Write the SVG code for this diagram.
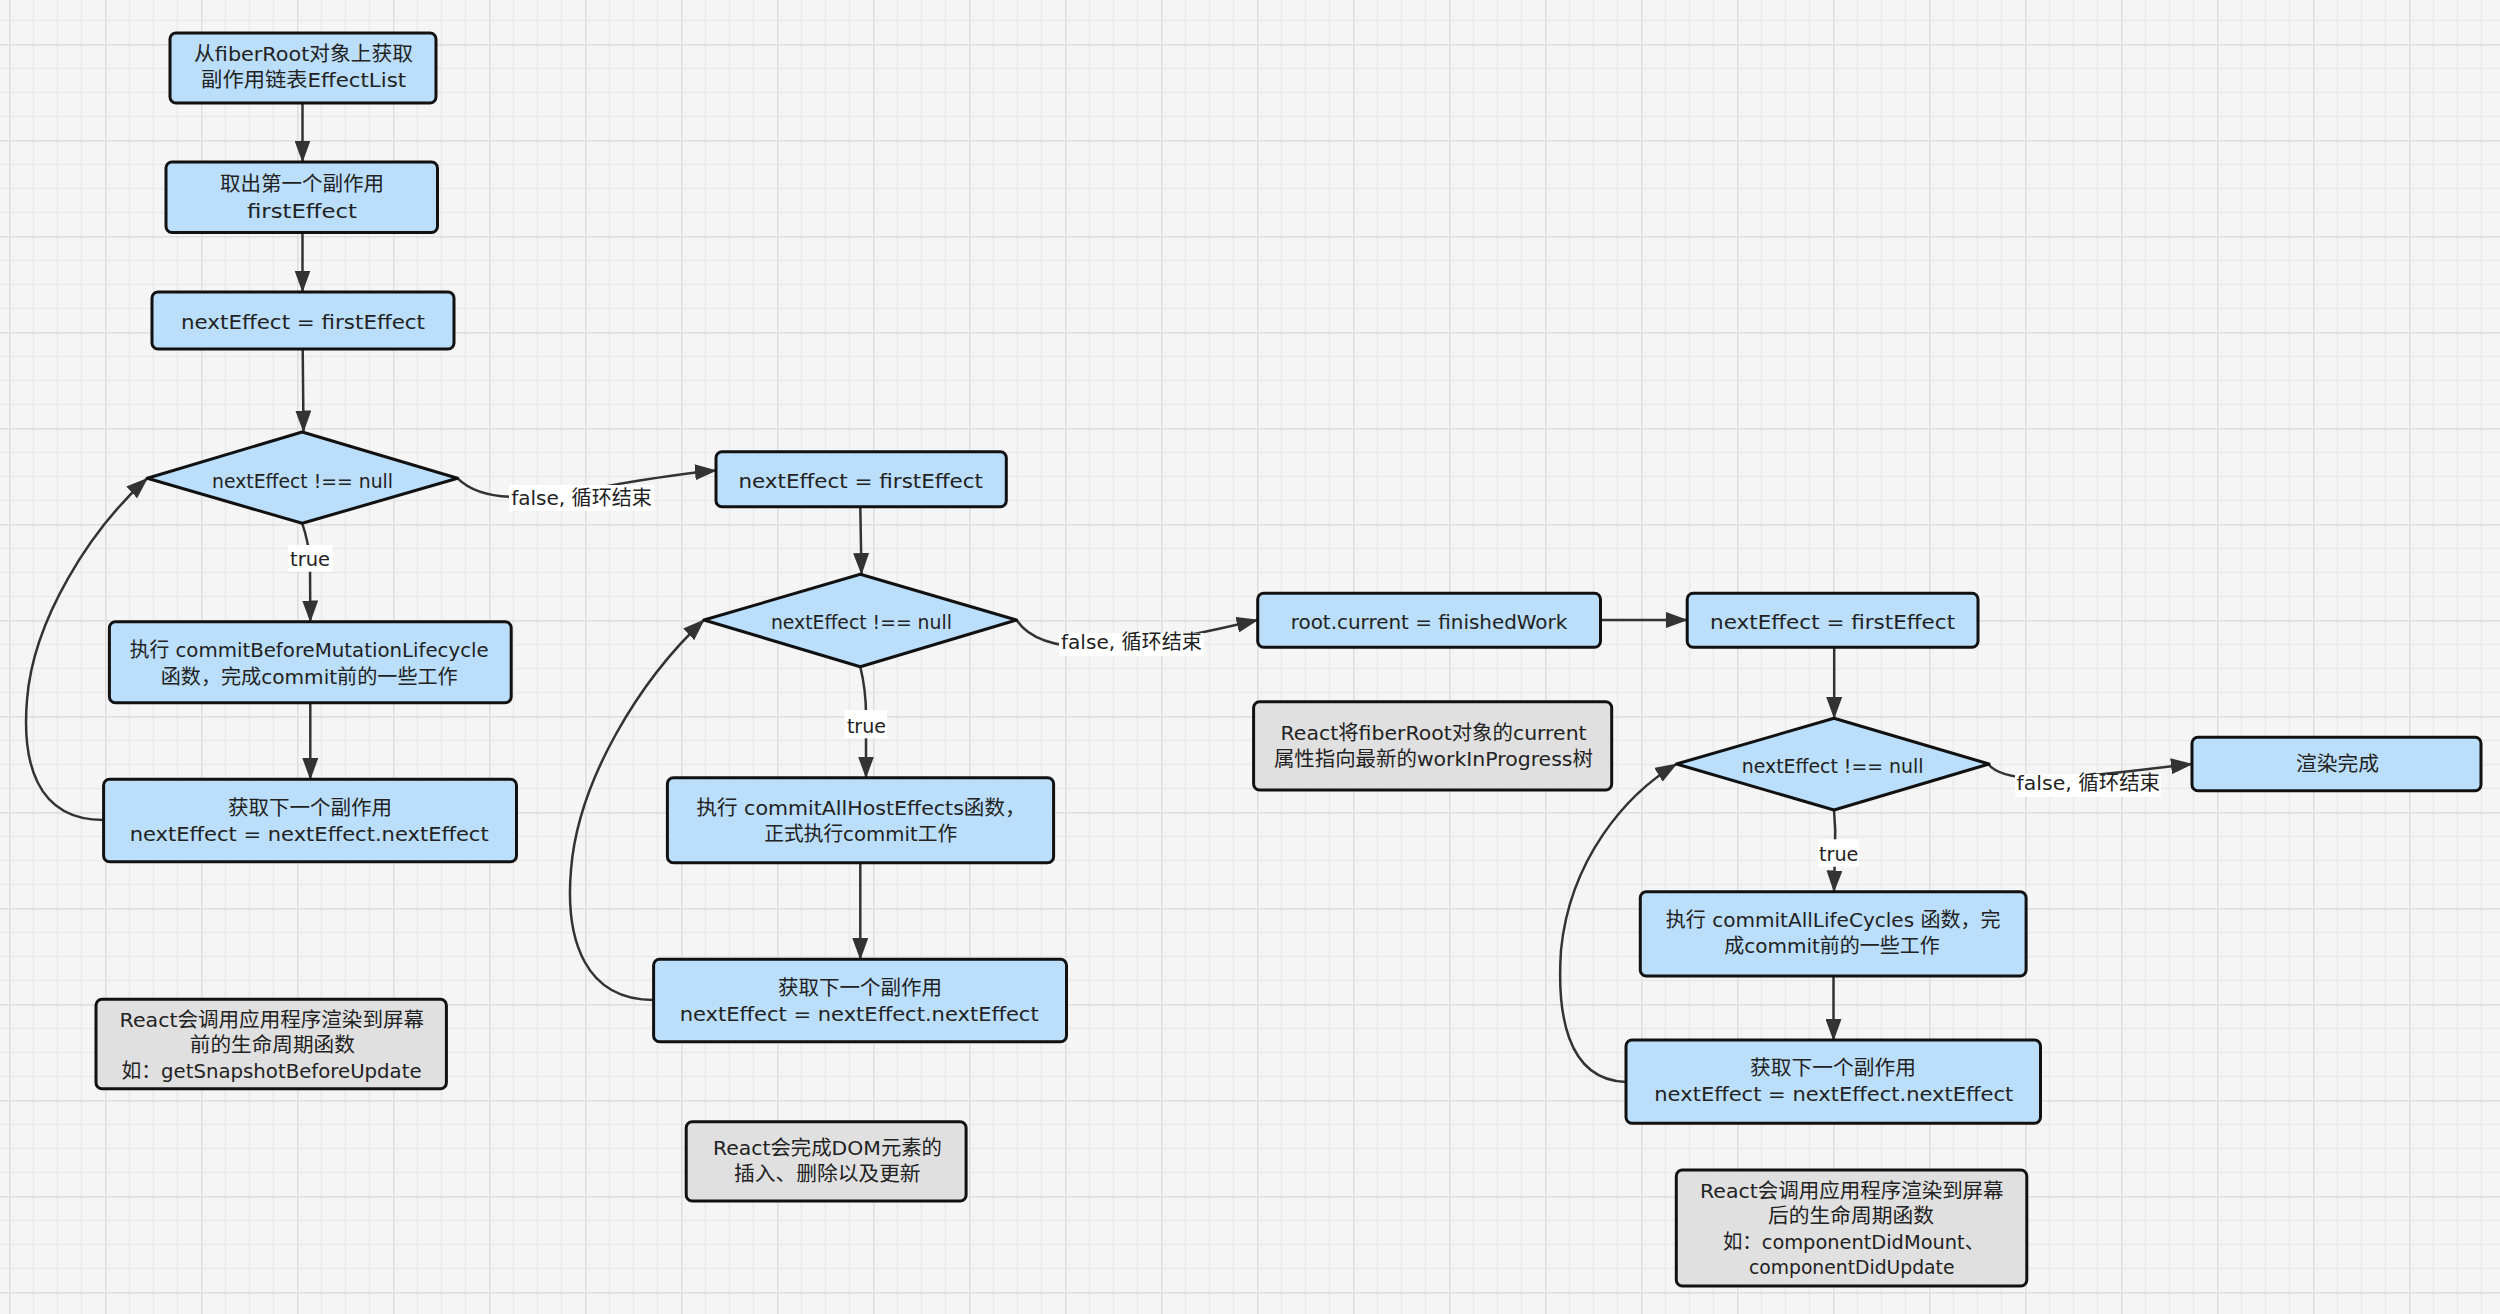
<svg xmlns="http://www.w3.org/2000/svg" width="2500" height="1314" viewBox="0 0 2500 1314">
<defs>
<pattern id="grid" x="9" y="44" width="96" height="96" patternUnits="userSpaceOnUse">
<rect width="96" height="96" fill="#f5f5f5"/>
<path d="M0.5,0V96M24.5,0V96M48.5,0V96M72.5,0V96M0,0.5H96M0,24.5H96M0,48.5H96M0,72.5H96" stroke="#e9e9e9" stroke-width="1.5" fill="none"/>
<path d="M0.5,0V96M0,0.5H96" stroke="#dfdfdf" stroke-width="2" fill="none"/>
</pattern>
<marker id="arr" viewBox="0 0 22 16" markerWidth="22" markerHeight="16" refX="21" refY="8" orient="auto" markerUnits="userSpaceOnUse">
<path d="M0,0L22,8L0,16z" fill="#333"/>
</marker>
<style>
.box{fill:#bbdefb;stroke:#111;stroke-width:3}
.note{fill:#e0e0e0;stroke:#111;stroke-width:3}
.lbl{fill:#fff}
text{font-family:"DejaVu Sans","Noto Sans CJK SC",sans-serif;font-size:20px;fill:#222;text-anchor:middle}
.edge{fill:none;stroke:#333;stroke-width:2.5;marker-end:url(#arr)}
</style>
</defs>
<rect width="2500" height="1314" fill="url(#grid)"/>

<g id="connectors">
<path class="edge" d="M302.5,103L302.5,161.5"/>
<path class="edge" d="M302.5,232.5L302.5,291.5"/>
<path class="edge" d="M302.7,349L303.5,431.5"/>
<path class="edge" d="M302.2,523.3Q308,540 310,560L310.3,621.5"/>
<path class="edge" d="M310.3,702.7L310.3,779"/>
<path class="edge" d="M103.6,820C35,820 22,760 27,700C33,620 90,530 147.3,478.3"/>
<path class="edge" d="M457.6,478.3C500,520 600,480 716,470.5"/>
<path class="edge" d="M860.3,507L861.5,574"/>
<path class="edge" d="M860.3,666.7Q866,690 866,715L866,777.5"/>
<path class="edge" d="M860.3,862.7L860.3,959"/>
<path class="edge" d="M653.6,1000C585,1000 565,940 571,870C578,780 640,680 704,620"/>
<path class="edge" d="M1016.5,620C1050,670 1170,640 1257.7,620"/>
<path class="edge" d="M1600.5,620L1687,620"/>
<path class="edge" d="M1834.2,647.3L1834.2,718"/>
<path class="edge" d="M1834,810Q1836,830 1835,850L1834,891.5"/>
<path class="edge" d="M1833.5,976L1833.5,1040"/>
<path class="edge" d="M1626,1082C1565,1080 1557,1010 1561,950C1570,860 1625,795 1676.5,764"/>
<path class="edge" d="M1988,764C2010,790 2090,775 2192,764"/>
<g id="edge-labels">
<rect class="lbl" x="509" y="485" width="145" height="26"/>
<text x="581.5" y="505" textLength="140.6" lengthAdjust="spacingAndGlyphs">false, 循环结束</text>
<rect class="lbl" x="1059" y="633" width="145" height="23"/>
<text x="1131.4" y="649" textLength="140.8" lengthAdjust="spacingAndGlyphs">false, 循环结束</text>
<rect class="lbl" x="2015" y="774" width="146" height="23"/>
<text x="2088.3" y="790" textLength="143.5" lengthAdjust="spacingAndGlyphs">false, 循环结束</text>
<rect class="lbl" x="288" y="545" width="44.6" height="26.7"/>
<text x="310" y="566" textLength="40" lengthAdjust="spacingAndGlyphs">true</text>
<rect class="lbl" x="844.6" y="710" width="42.4" height="28.3"/>
<text x="866.4" y="733" textLength="39" lengthAdjust="spacingAndGlyphs">true</text>
<rect class="lbl" x="1817.6" y="839.3" width="41.4" height="27.4"/>
<text x="1838.7" y="861" textLength="39.5" lengthAdjust="spacingAndGlyphs">true</text>
</g>
</g>

<g id="n1">
<rect class="box" x="170" y="33" width="266" height="70" rx="6"/>
<text x="303.6" y="61" textLength="219" lengthAdjust="spacingAndGlyphs">从fiberRoot对象上获取</text>
<text x="303.6" y="87" textLength="205" lengthAdjust="spacingAndGlyphs">副作用链表EffectList</text>
</g>
<g id="n2">
<rect class="box" x="166" y="162" width="271.5" height="70.5" rx="6"/>
<text x="302" y="191" textLength="164" lengthAdjust="spacingAndGlyphs">取出第一个副作用</text>
<text x="302" y="218" textLength="110" lengthAdjust="spacingAndGlyphs">firstEffect</text>
</g>
<g id="n3">
<rect class="box" x="152" y="292" width="302" height="57" rx="6"/>
<text x="303" y="329" textLength="244" lengthAdjust="spacingAndGlyphs">nextEffect = firstEffect</text>
</g>
<g id="d1">
<polygon class="box" points="302.2,432 457.6,478.3 302.2,523.3 147.3,478.3" stroke-linejoin="round"/>
<text x="302.5" y="488" textLength="181" lengthAdjust="spacingAndGlyphs">nextEffect !== null</text>
</g>
<g id="n4">
<rect class="box" x="109.4" y="621.7" width="401.8" height="81" rx="6"/>
<text x="309.2" y="657" textLength="359" lengthAdjust="spacingAndGlyphs">执行 commitBeforeMutationLifecycle</text>
<text x="309.2" y="684" textLength="297" lengthAdjust="spacingAndGlyphs">函数，完成commit前的一些工作</text>
</g>
<g id="n5">
<rect class="box" x="103.6" y="779.3" width="412.9" height="82.4" rx="6"/>
<text x="310" y="815" textLength="164" lengthAdjust="spacingAndGlyphs">获取下一个副作用</text>
<text x="309.2" y="841" textLength="359" lengthAdjust="spacingAndGlyphs">nextEffect = nextEffect.nextEffect</text>
</g>
<g id="note1">
<rect class="note" x="96" y="999.3" width="350.4" height="89.4" rx="6"/>
<text x="271.8" y="1027" textLength="304.5" lengthAdjust="spacingAndGlyphs">React会调用应用程序渲染到屏幕</text>
<text x="272.3" y="1052" textLength="165" lengthAdjust="spacingAndGlyphs">前的生命周期函数</text>
<text x="271.6" y="1078" textLength="300" lengthAdjust="spacingAndGlyphs">如：getSnapshotBeforeUpdate</text>
</g>

<g id="n6">
<rect class="box" x="716" y="451.7" width="290.3" height="55" rx="6"/>
<text x="860.7" y="488" textLength="244.6" lengthAdjust="spacingAndGlyphs">nextEffect = firstEffect</text>
</g>
<g id="d2">
<polygon class="box" points="860.3,574.3 1016.5,620 860.3,666.7 704,620" stroke-linejoin="round"/>
<text x="861.4" y="629" textLength="181" lengthAdjust="spacingAndGlyphs">nextEffect !== null</text>
</g>
<g id="n7">
<rect class="box" x="667.4" y="777.7" width="386.2" height="85" rx="6"/>
<text x="861" y="815" textLength="329" lengthAdjust="spacingAndGlyphs">执行 commitAllHostEffects函数，</text>
<text x="860.7" y="841" textLength="193" lengthAdjust="spacingAndGlyphs">正式执行commit工作</text>
</g>
<g id="n8">
<rect class="box" x="653.6" y="959.3" width="412.9" height="82.4" rx="6"/>
<text x="860" y="995" textLength="164" lengthAdjust="spacingAndGlyphs">获取下一个副作用</text>
<text x="859.2" y="1021" textLength="359" lengthAdjust="spacingAndGlyphs">nextEffect = nextEffect.nextEffect</text>
</g>
<g id="note2">
<rect class="note" x="686.2" y="1121.7" width="279.9" height="79.3" rx="6"/>
<text x="827.5" y="1155" textLength="229" lengthAdjust="spacingAndGlyphs">React会完成DOM元素的</text>
<text x="827.3" y="1181" textLength="186.6" lengthAdjust="spacingAndGlyphs">插入、删除以及更新</text>
</g>

<g id="n9">
<rect class="box" x="1257.7" y="593.3" width="342.8" height="54" rx="6"/>
<text x="1429" y="629" textLength="276.5" lengthAdjust="spacingAndGlyphs">root.current = finishedWork</text>
</g>
<g id="note3">
<rect class="note" x="1253.6" y="701.7" width="358.1" height="88.3" rx="6"/>
<text x="1433.6" y="740" textLength="306" lengthAdjust="spacingAndGlyphs">React将fiberRoot对象的current</text>
<text x="1433.4" y="766" textLength="319" lengthAdjust="spacingAndGlyphs">属性指向最新的workInProgress树</text>
</g>
<g id="n10">
<rect class="box" x="1687.2" y="593.3" width="290.8" height="54" rx="6"/>
<text x="1832.6" y="629" textLength="245" lengthAdjust="spacingAndGlyphs">nextEffect = firstEffect</text>
</g>
<g id="d3">
<polygon class="box" points="1834,718.3 1989,764 1834,810 1676.5,764" stroke-linejoin="round"/>
<text x="1832.6" y="773" textLength="181.7" lengthAdjust="spacingAndGlyphs">nextEffect !== null</text>
</g>
<g id="n11">
<rect class="box" x="2192" y="737.3" width="289" height="53.4" rx="6"/>
<text x="2337.4" y="771" textLength="83" lengthAdjust="spacingAndGlyphs">渲染完成</text>
</g>
<g id="n12">
<rect class="box" x="1640.3" y="891.7" width="385.8" height="84.3" rx="6"/>
<text x="1833.2" y="927" textLength="334.8" lengthAdjust="spacingAndGlyphs">执行 commitAllLifeCycles 函数，完</text>
<text x="1832" y="953" textLength="215.6" lengthAdjust="spacingAndGlyphs">成commit前的一些工作</text>
</g>
<g id="n13">
<rect class="box" x="1626" y="1040" width="414.5" height="83.3" rx="6"/>
<text x="1833" y="1075" textLength="165.8" lengthAdjust="spacingAndGlyphs">获取下一个副作用</text>
<text x="1833.8" y="1101" textLength="359" lengthAdjust="spacingAndGlyphs">nextEffect = nextEffect.nextEffect</text>
</g>
<g id="note4">
<rect class="note" x="1676.3" y="1170" width="350.5" height="116" rx="6"/>
<text x="1851.8" y="1198" textLength="303.6" lengthAdjust="spacingAndGlyphs">React会调用应用程序渲染到屏幕</text>
<text x="1851" y="1223" textLength="166" lengthAdjust="spacingAndGlyphs">后的生命周期函数</text>
<text x="1853.5" y="1249" textLength="261" lengthAdjust="spacingAndGlyphs">如：componentDidMount、</text>
<text x="1851.7" y="1274" textLength="205.5" lengthAdjust="spacingAndGlyphs">componentDidUpdate</text>
</g>
</svg>
